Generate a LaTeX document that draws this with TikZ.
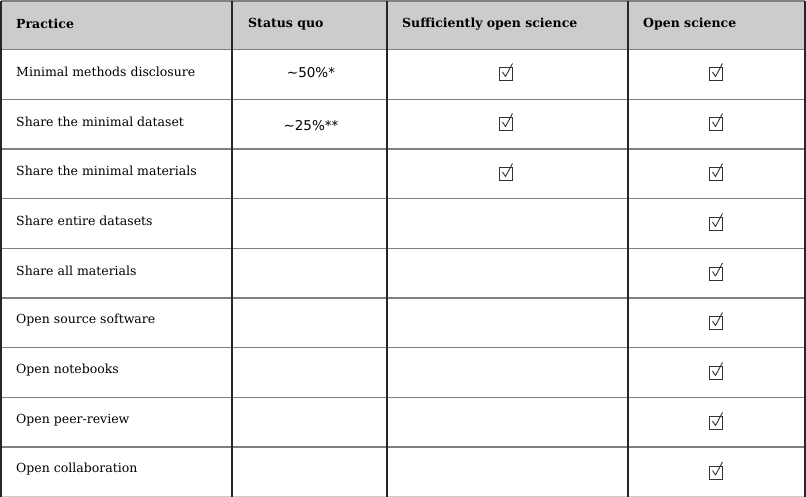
\documentclass[tikz,border=0pt]{standalone}
\usepackage{fontspec}
\setmainfont{DejaVu Serif}
\newfontfamily\statfont{DejaVu Sans}

\begin{document}
\begin{tikzpicture}[x=1pt,y=-1pt,
    cell/.style={anchor=west,inner sep=0pt,font=\fontsize{12.5}{15}\selectfont},
    head/.style={cell,font=\fontsize{12.5}{15}\selectfont\bfseries},
    stat/.style={inner sep=0pt,font=\statfont\fontsize{13.5}{16}\selectfont},
    hline/.style={draw=black!50,line width=1.3pt},
    vline/.style={draw=black!85,line width=1.2pt},
    tickbox/.pic={
      \draw[black!80,line width=0.9pt] (-6.5,-6.5) rectangle (6.5,6.5);
      \draw[black!80,line width=0.9pt,line join=round] (-3.5,-2) -- (-0.5,2.5) -- (6.5,-10.5);
    }]
    \useasboundingbox (0,0) rectangle (806,497);
    \fill[black!20] (1,1) rectangle (805,49.5);
    \draw[hline] (1,1) -- (805,1);
    \draw[hline] (1,49.5) -- (805,49.5);
    \draw[hline] (1,99.2) -- (805,99.2);
    \draw[hline] (1,148.9) -- (805,148.9);
    \draw[hline] (1,198.6) -- (805,198.6);
    \draw[hline] (1,248.3) -- (805,248.3);
    \draw[hline] (1,298) -- (805,298);
    \draw[hline] (1,347.7) -- (805,347.7);
    \draw[hline] (1,397.4) -- (805,397.4);
    \draw[hline] (1,447.1) -- (805,447.1);
    \draw[draw=black!20,line width=1.2pt] (1,496.4) -- (805,496.4);
    \draw[vline] (1,1) -- (1,497);
    \draw[vline] (232,1) -- (232,497);
    \draw[vline] (387,1) -- (387,497);
    \draw[vline] (628,1) -- (628,497);
    \draw[vline] (805,1) -- (805,497);

    \node[head] (hprac) at (16,24) {Practice};
    \node[head] (hstat) at (248,24) {Status quo};
    \node[head] (hsuff) at (402,24) {Sufficiently open science};
    \node[head] (hopen) at (643,24) {Open science};

    \node[cell] (methods) at (16,72) {Minimal methods disclosure};
    \node[cell] (mindata) at (16,121.5) {Share the minimal dataset};
    \node[cell] (minmat) at (16,171) {Share the minimal materials};
    \node[cell] (alldata) at (16,221) {Share entire datasets};
    \node[cell] (allmat) at (16,270.5) {Share all materials};
    \node[cell] (software) at (16,320) {Open source software};
    \node[cell] (notebooks) at (16,370) {Open notebooks};
    \node[cell] (review) at (16,420) {Open peer-review};
    \node[cell] (collab) at (16,469.5) {Open collaboration};

    \node[stat] (stmethods) at (311,73) {\textasciitilde50\%*};
    \node[stat] (stdata) at (311,126) {\textasciitilde25\%**};

    \pic (sufmethods) at (506,74) {tickbox};
    \pic (sufdata) at (506,124) {tickbox};
    \pic (sufmat) at (506,174) {tickbox};
    \pic (opmethods) at (716,74) {tickbox};
    \pic (opdata) at (716,124) {tickbox};
    \pic (opmat) at (716,174) {tickbox};
    \pic (opalldata) at (716,224) {tickbox};
    \pic (opallmat) at (716,273.5) {tickbox};
    \pic (opsoftware) at (716,323) {tickbox};
    \pic (opnotebooks) at (716,373) {tickbox};
    \pic (opreview) at (716,423) {tickbox};
    \pic (opcollab) at (716,472.5) {tickbox};
\end{tikzpicture}
\end{document}
